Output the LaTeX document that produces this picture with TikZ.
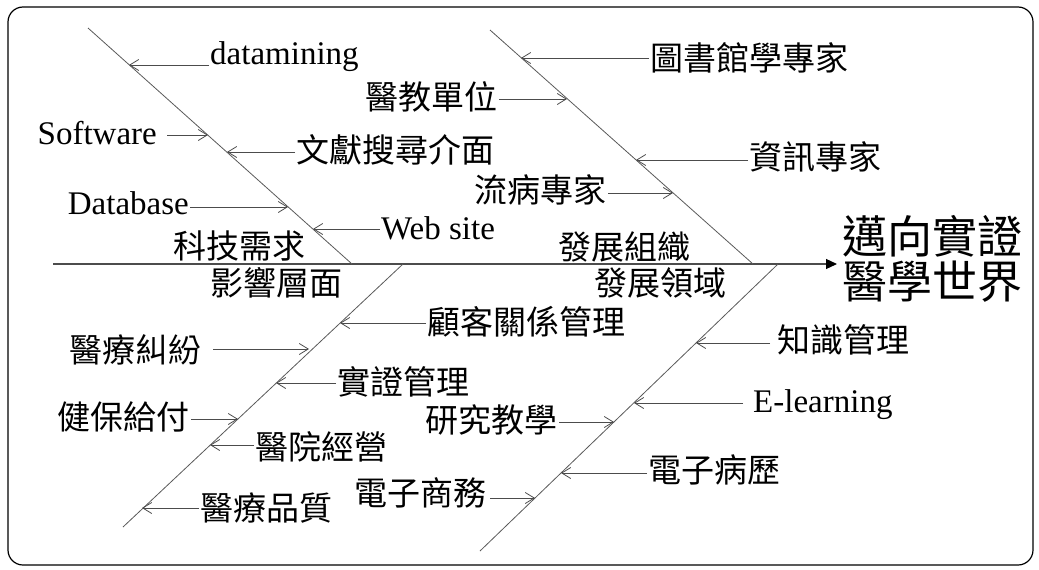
\documentclass[tikz,border=0pt]{standalone}
\usepackage{fontspec}
\setmainfont{Liberation Serif}
\newfontfamily\cjk{Noto Sans CJK TC}
\usepackage{tikz}
\usetikzlibrary{arrows.meta}
\tikzstyle{frame} = [draw, rounded corners=15pt, line width=1.2pt]
\tikzstyle{bone} = [draw, line width=0.8pt, color=black!65]
\tikzstyle{spine} = [draw, line width=1.2pt, color=black!70, -{Triangle[length=11pt,width=10pt,color=black]}]
\tikzstyle{line} = [draw, line width=0.8pt, color=black!70, -{Straight Barb[length=9pt,width=11pt]}]
\tikzstyle{zh} = [font=\cjk\fontsize{33}{33}\selectfont, inner sep=1pt]
\tikzstyle{en} = [font=\fontsize{33}{33}\selectfont, inner sep=1pt]
\tikzstyle{goal} = [font=\cjk\fontsize{45}{45}\selectfont, align=left, inner sep=0pt]

\begin{document}
\begin{tikzpicture}[x=1pt, y=-1pt]
  	\useasboundingbox (0,0) rectangle (1039,570);
  	%% frame
  	\path[frame] (8,7) rectangle (1033,565);
  	%% spine and head
  	\coordinate (head) at (837,264);
  	\coordinate (tail) at (53,264);
  	\node[goal, anchor=west] (world) at (842,259) {邁向實證\\醫學世界};
  	\path[spine] (tail) -- (head);
  	%% bones
  	\coordinate (ul-a) at (88,28);   \coordinate (ul-b) at (352,264);
  	\coordinate (ur-a) at (490,30);  \coordinate (ur-b) at (753,264);
  	\coordinate (ll-a) at (403,264); \coordinate (ll-b) at (123,527);
  	\coordinate (lr-a) at (778,264); \coordinate (lr-b) at (480,551);
  	\path[bone] (ul-a) -- (ul-b);
  	\path[bone] (ur-a) -- (ur-b);
  	\path[bone] (ll-a) -- (ll-b);
  	\path[bone] (lr-a) -- (lr-b);
  	%% bone titles
  	\node[zh] (tech) at (239,246) {科技需求};
  	\node[zh] (impact) at (276,283) {影響層面};
  	\node[zh] (org) at (624,247) {發展組織};
  	\node[zh] (field) at (660,283) {發展領域};
  	%% upper left bone
  	\node[en, anchor=west] (dm) at (209,57) {datamining};
  	\node[en, anchor=east, inner xsep=10pt] (sw) at (167,133) {Software};
  	\node[zh, anchor=west] (lit) at (295,150) {文獻搜尋介面};
  	\node[en, anchor=east] (db) at (190,203) {Database};
  	\node[en, anchor=west] (web) at (380,228) {Web site};
  	\coordinate (t-dm) at (129,65);
  	\coordinate (t-sw) at (208,135);
  	\coordinate (t-lit) at (227,152);
  	\coordinate (t-db) at (288,207);
  	\coordinate (t-web) at (313,229);
  	%% upper right bone
  	\node[zh, anchor=west] (lib) at (649,58) {圖書館學專家};
  	\node[zh, anchor=east] (edu) at (499,97) {醫教單位};
  	\node[zh, anchor=west] (info) at (748,157) {資訊專家};
  	\node[zh, anchor=east] (epi) at (608,190) {流病專家};
  	\coordinate (t-lib) at (521,58);
  	\coordinate (t-edu) at (567,99);
  	\coordinate (t-info) at (636,160);
  	\coordinate (t-epi) at (673,193);
  	%% lower left bone
  	\node[zh, anchor=west] (crm) at (426,322) {顧客關係管理};
  	\node[zh, anchor=east, inner xsep=11pt] (dispute) at (213,350) {醫療糾紛};
  	\node[zh, anchor=west] (ebm) at (336,382) {實證管理};
  	\node[zh, anchor=east] (nhi) at (191,417) {健保給付};
  	\node[zh, anchor=west] (hosp) at (254,447) {醫院經營};
  	\node[zh, anchor=west] (qual) at (199,508) {醫療品質};
  	\coordinate (t-crm) at (340,323);
  	\coordinate (t-dispute) at (309,349);
  	\coordinate (t-ebm) at (276,383);
  	\coordinate (t-nhi) at (238,419);
  	\coordinate (t-hosp) at (210,445);
  	\coordinate (t-qual) at (142,508);
  	%% lower right bone
  	\node[zh, anchor=west, inner xsep=7pt] (km) at (770,340) {知識管理};
  	\node[en, anchor=west, inner xsep=10pt] (el) at (743,405) {E-learning};
  	\node[zh, anchor=east] (teach) at (559,420) {研究教學};
  	\node[zh, anchor=west] (emr) at (647,470) {電子病歷};
  	\node[zh, anchor=east, inner xsep=3pt] (ec) at (490,493) {電子商務};
  	\coordinate (t-km) at (696,343);
  	\coordinate (t-el) at (634,403);
  	\coordinate (t-teach) at (614,422);
  	\coordinate (t-emr) at (561,473);
  	\coordinate (t-ec) at (535,498);
  	%% edges
  	\path[line] (dm.west |- t-dm) -- (t-dm);
  	\path[line] (sw.east |- t-sw) -- (t-sw);
  	\path[line] (lit.west |- t-lit) -- (t-lit);
  	\path[line] (db.east |- t-db) -- (t-db);
  	\path[line] (web.west |- t-web) -- (t-web);
  	\path[line] (lib.west |- t-lib) -- (t-lib);
  	\path[line] (edu.east |- t-edu) -- (t-edu);
  	\path[line] (info.west |- t-info) -- (t-info);
  	\path[line] (epi.east |- t-epi) -- (t-epi);
  	\path[line] (crm.west |- t-crm) -- (t-crm);
  	\path[line] (dispute.east |- t-dispute) -- (t-dispute);
  	\path[line] (ebm.west |- t-ebm) -- (t-ebm);
  	\path[line] (nhi.east |- t-nhi) -- (t-nhi);
  	\path[line] (hosp.west |- t-hosp) -- (t-hosp);
  	\path[line] (qual.west |- t-qual) -- (t-qual);
  	\path[line] (km.west |- t-km) -- (t-km);
  	\path[line] (el.west |- t-el) -- (t-el);
  	\path[line] (teach.east |- t-teach) -- (t-teach);
  	\path[line] (emr.west |- t-emr) -- (t-emr);
  	\path[line] (ec.east |- t-ec) -- (t-ec);
  	\end{tikzpicture}
\end{document}
